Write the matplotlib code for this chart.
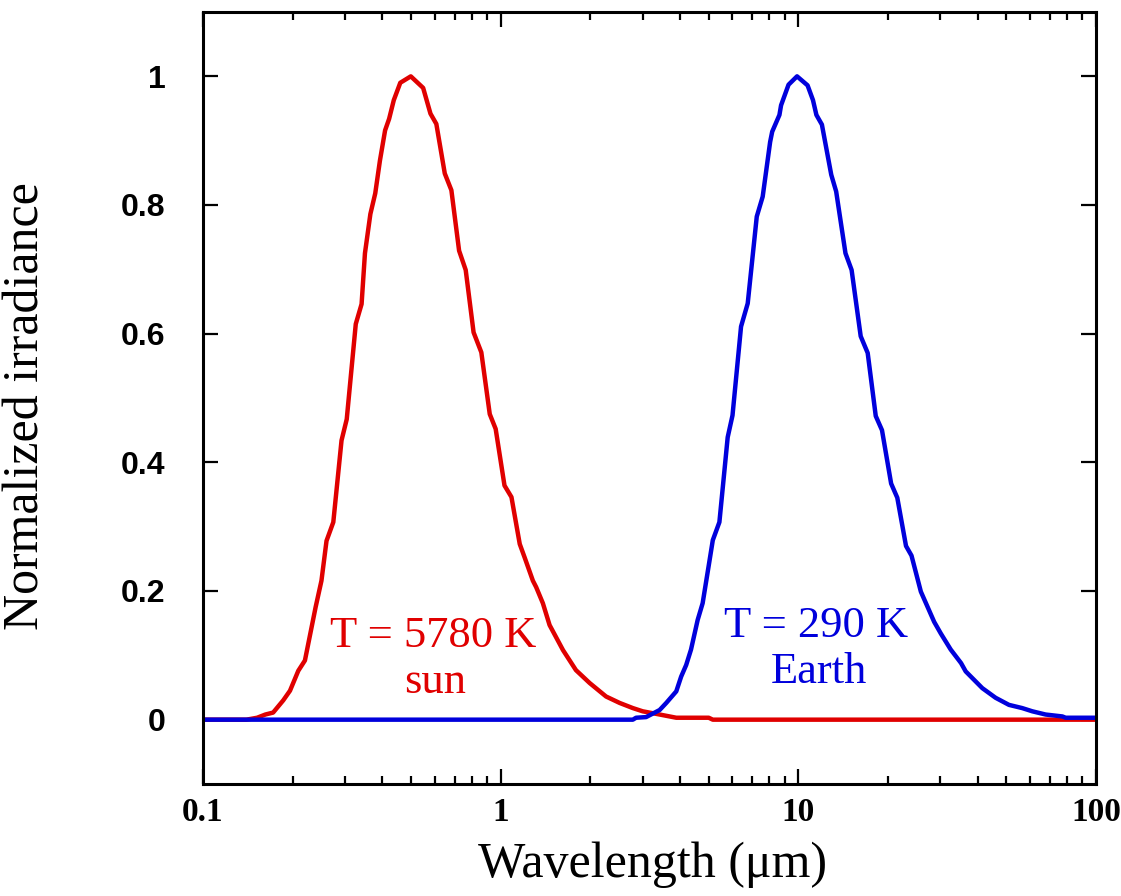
import matplotlib
matplotlib.use("Agg")
import matplotlib.pyplot as plt
from matplotlib.ticker import LogLocator, NullFormatter, FixedLocator

# ---- data ----
sun_wavelength = [0.1, 0.14, 0.152, 0.162, 0.172, 0.186, 0.196, 0.209, 0.220, 0.239,
                  0.250, 0.260, 0.274, 0.292, 0.304, 0.326, 0.341, 0.350, 0.365, 0.379,
                  0.393, 0.409, 0.422, 0.4375, 0.46, 0.499, 0.549, 0.581, 0.608, 0.649,
                  0.683, 0.725, 0.763, 0.811, 0.861, 0.919, 0.962, 1.03, 1.087, 1.159,
                  1.204, 1.283, 1.316, 1.386, 1.46, 1.62, 1.79, 1.99, 2.26, 2.51,
                  2.78, 3.0, 3.42, 3.89, 5.0, 5.16, 100]
sun_irradiance = [0, 0, 0.003, 0.008, 0.011, 0.030, 0.045, 0.076, 0.092, 0.175,
                  0.216, 0.278, 0.307, 0.434, 0.467, 0.615, 0.646, 0.725, 0.786, 0.818,
                  0.869, 0.916, 0.934, 0.963, 0.99, 1.0, 0.982, 0.942, 0.926, 0.849,
                  0.823, 0.729, 0.699, 0.602, 0.571, 0.475, 0.452, 0.364, 0.346, 0.273,
                  0.252, 0.216, 0.206, 0.181, 0.147, 0.108, 0.077, 0.057, 0.036, 0.026,
                  0.018, 0.013, 0.008, 0.003, 0.003, 0.0, 0.0]

earth_wavelength = [0.1, 2.78, 2.85, 3.08, 3.42, 3.60, 3.89, 4.04, 4.20, 4.36,
                    4.59, 4.77, 5.03, 5.16, 5.43, 5.79, 6.01, 6.42, 6.76, 7.25,
                    7.59, 8.04, 8.17, 8.64, 8.75, 9.27, 9.90, 10.74, 11.2, 11.5,
                    12.0, 12.9, 13.4, 14.4, 15.1, 16.2, 17.1, 18.2, 19.1, 20.5,
                    21.5, 23.0, 24.0, 25.8, 28.6, 30.1, 32.5, 35.2, 36.5, 41.5,
                    46.0, 51.0, 56.5, 61.1, 67.7, 77.1, 79.1, 100]
earth_irradiance = [0, 0, 0.003, 0.004, 0.015, 0.026, 0.044, 0.067, 0.085, 0.109,
                    0.155, 0.181, 0.247, 0.279, 0.307, 0.439, 0.473, 0.611, 0.647, 0.782,
                    0.813, 0.898, 0.914, 0.940, 0.955, 0.987, 1.0, 0.986, 0.963, 0.940,
                    0.925, 0.847, 0.821, 0.725, 0.699, 0.596, 0.570, 0.472, 0.450, 0.367,
                    0.345, 0.270, 0.255, 0.199, 0.152, 0.134, 0.109, 0.088, 0.075, 0.049,
                    0.034, 0.023, 0.018, 0.013, 0.008, 0.005, 0.003, 0.003]

x_ticks = [0.1, 1, 10, 100]
x_tick_labels = ["0.1", "1", "10", "100"]
y_ticks = [0, 0.2, 0.4, 0.6, 0.8, 1.0]
y_tick_labels = ["0", "0.2", "0.4", "0.6", "0.8", "1"]

RED = "#e00000"
BLUE = "#0000dc"

fig = plt.figure(figsize=(11.21, 8.96), dpi=100)
ax = fig.add_axes([203/1121, 1 - 784/896, (1096-203)/1121, (784-12)/896])

ax.plot(sun_wavelength, sun_irradiance, color=RED, lw=3.2, solid_joinstyle="round")
ax.plot(earth_wavelength, earth_irradiance, color=BLUE, lw=3.2, solid_joinstyle="round")

ax.set_xscale("log")
ax.set_xlim(0.1, 100)
ax.set_ylim(-0.1, 1.1)

ax.xaxis.set_major_locator(FixedLocator(x_ticks))
ax.set_xticklabels(x_tick_labels)
ax.xaxis.set_minor_locator(LogLocator(base=10, subs=range(2, 10), numticks=20))
ax.xaxis.set_minor_formatter(NullFormatter())
ax.set_yticks(y_ticks)
ax.set_yticklabels(y_tick_labels)

for s in ax.spines.values():
    s.set_linewidth(2.2)

ax.tick_params(axis="both", which="major", direction="in", length=11, width=1.6,
               top=True, right=True)
ax.tick_params(axis="x", which="minor", direction="in", length=5.8, width=1.6,
               top=True, bottom=True)
ax.tick_params(axis="x", which="major", pad=9)
ax.tick_params(axis="y", which="major", pad=27)

for lab in ax.get_xticklabels():
    lab.set_fontfamily("Liberation Serif")
    lab.set_fontweight("bold")
    lab.set_fontsize(24)
for lab in ax.get_yticklabels():
    lab.set_fontfamily("Liberation Sans")
    lab.set_fontweight("bold")
    lab.set_fontsize(23)

ax.set_xlabel("Wavelength (\u03bcm)", fontfamily="Liberation Serif", fontsize=36)
ax.set_ylabel("Normalized irradiance", fontfamily="Liberation Serif", fontsize=36)
ax.xaxis.set_label_coords(0.503, -0.075)
ax.yaxis.set_label_coords(-0.172, 0.49)

ax.text(0.5935, 0.113, "T = 5780 K", color=RED, fontfamily="Liberation Serif",
        fontsize=32, ha="center", va="baseline")
ax.text(0.60, 0.042, "sun", color=RED, fontfamily="Liberation Serif",
        fontsize=32, ha="center", va="baseline")
ax.text(11.47, 0.129, "T = 290 K", color=BLUE, fontfamily="Liberation Serif",
        fontsize=32, ha="center", va="baseline")
ax.text(11.7, 0.057, "Earth", color=BLUE, fontfamily="Liberation Serif",
        fontsize=32, ha="center", va="baseline")

fig.savefig("out.png", dpi=100)
